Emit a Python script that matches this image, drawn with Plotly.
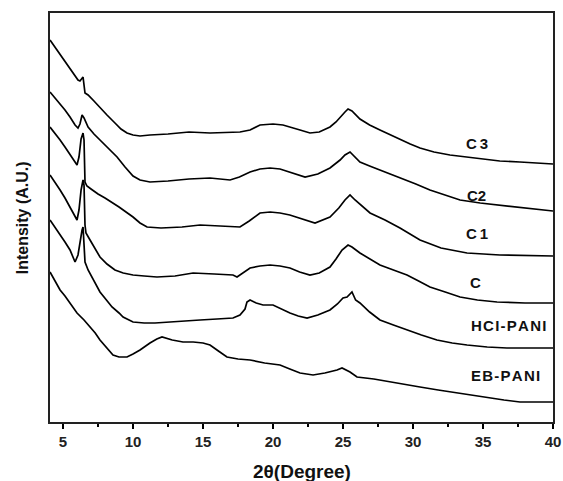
import plotly.graph_objects as go

# ---- data (2θ in degrees, intensity in arbitrary units, offsets included) ----
x_C3 = [4.07, 4.43, 4.79, 5.14, 5.5, 5.86, 6.07, 6.21, 6.43, 6.57, 6.79, 7.21, 7.64, 8.14, 8.71, 9.14, 9.57, 10.0, 10.5, 11.21, 12.5, 14.0, 15.5, 17.0, 17.64, 18.36, 19.07, 20.0, 20.71, 21.93, 22.64, 23.3, 24.07, 24.5, 24.79, 25.14, 25.36, 25.64, 26.21, 26.9, 27.64, 28.4, 29.07, 29.8, 30.5, 31.5, 32.64, 33.7, 34.79, 36.2, 37.64, 40.0]
y_C3 = [382, 375, 367, 360, 354, 346, 342, 341, 345, 329, 327, 321, 315, 307, 299, 293, 289, 287, 286, 287, 288, 290, 289, 290, 290, 292, 297, 298, 297, 292, 289, 290, 295, 300, 305, 310, 313, 311, 303, 297, 292, 287, 282, 278, 274, 270, 267, 265, 263, 261, 260, 258]

x_C2 = [4.07, 4.43, 4.79, 5.14, 5.5, 5.86, 6.07, 6.21, 6.36, 6.5, 6.79, 7.21, 7.64, 8.29, 8.86, 9.43, 10.0, 10.5, 11.21, 12.5, 14.0, 15.5, 16.93, 17.6, 18.36, 19.07, 19.79, 20.5, 21.21, 22.29, 23.2, 24.07, 24.79, 25.14, 25.5, 25.86, 26.21, 26.9, 27.64, 28.4, 29.07, 30.2, 31.21, 32.3, 33.36, 34.8, 36.21, 38.0, 40.0]
y_C2 = [330, 324, 318, 312, 305, 297, 294, 298, 307, 304, 295, 288, 282, 273, 265, 255, 246, 242, 240, 241, 243, 244, 242, 245, 250, 253, 254, 253, 250, 245, 248, 254, 262, 267, 270, 265, 260, 256, 252, 248, 244, 238, 232, 227, 222, 219, 217, 214, 211]

x_C1 = [4.07, 4.43, 4.79, 5.14, 5.5, 5.86, 6.0, 6.14, 6.29, 6.43, 6.5, 6.57, 6.71, 7.0, 7.5, 8.0, 8.36, 9.0, 9.5, 10.0, 10.5, 11.0, 12.0, 13.5, 14.79, 16.3, 17.64, 18.3, 19.07, 19.8, 20.5, 21.2, 21.93, 23.0, 24.07, 24.7, 25.14, 25.5, 25.86, 26.4, 26.93, 28.0, 29.07, 30.5, 32.0, 33.86, 36.21, 40.0]
y_C1 = [295, 289, 282, 275, 267, 259, 257, 265, 283, 289, 282, 240, 236, 233, 228, 224, 221, 215, 210, 205, 199, 195, 194, 195, 197, 196, 195, 201, 209, 210, 209, 207, 204, 199, 205, 214, 222, 227, 222, 215, 209, 202, 194, 182, 174, 169, 167, 166]

x_C = [4.07, 4.43, 4.79, 5.14, 5.5, 5.86, 6.0, 6.14, 6.29, 6.43, 6.5, 6.57, 6.64, 6.93, 7.29, 7.64, 8.14, 8.71, 9.3, 10.0, 10.8, 11.71, 13.0, 14.29, 15.8, 17.14, 17.43, 17.9, 18.36, 19.07, 19.79, 20.5, 21.21, 21.9, 22.64, 23.3, 24.07, 24.5, 24.93, 25.36, 25.64, 26.21, 26.9, 27.64, 28.6, 29.57, 30.4, 31.21, 32.3, 33.36, 34.6, 36.0, 38.0, 40.0]
y_C = [247, 240, 232, 224, 215, 206, 202, 212, 232, 242, 237, 197, 189, 182, 173, 165, 158, 152, 149, 147, 146, 145, 146, 149, 148, 147, 145, 150, 154, 156, 157, 156, 154, 150, 147, 149, 155, 163, 172, 177, 175, 169, 163, 157, 152, 147, 141, 135, 130, 125, 122, 120, 119, 119]

x_HCl = [4.07, 4.43, 4.79, 5.14, 5.5, 5.86, 6.07, 6.21, 6.36, 6.43, 6.5, 6.57, 6.79, 7.2, 7.64, 8.1, 8.5, 9.0, 9.29, 10.0, 10.8, 11.57, 13.0, 14.79, 16.0, 17.14, 17.64, 18.0, 18.14, 18.36, 18.8, 19.29, 20.0, 20.6, 21.21, 21.8, 22.43, 23.2, 24.07, 24.6, 25.0, 25.29, 25.64, 25.9, 26.21, 26.9, 27.64, 28.6, 29.57, 30.6, 31.71, 32.8, 33.86, 35.3, 36.71, 38.3, 40.0]
y_HCl = [202, 195, 187, 180, 172, 160, 167, 180, 192, 195, 182, 160, 152, 141, 130, 122, 115, 109, 105, 100, 99, 99, 100, 102, 103, 104, 107, 113, 120, 122, 119, 117, 117, 113, 109, 106, 104, 107, 112, 118, 124, 125, 130, 122, 119, 110, 102, 97, 92, 87, 82, 79, 77, 75, 74, 74, 74]

x_EB = [4.07, 4.43, 4.79, 5.14, 5.5, 6.0, 6.5, 6.93, 7.3, 7.64, 8.1, 8.57, 9.0, 9.57, 10.0, 10.5, 11.21, 11.7, 12.07, 12.8, 13.57, 14.3, 15.0, 15.5, 16.1, 16.71, 17.5, 18.36, 19.4, 20.5, 21.2, 21.93, 22.86, 23.7, 24.57, 24.93, 25.5, 26.0, 27.2, 28.36, 29.4, 30.5, 31.8, 33.14, 34.2, 35.29, 36.5, 37.64, 40.0]
y_EB = [150, 141, 132, 126, 119, 109, 102, 95, 89, 82, 74, 67, 65, 65, 68, 72, 79, 83, 85, 82, 80, 80, 79, 77, 71, 65, 63, 62, 59, 57, 53, 49, 47, 49, 52, 54, 50, 45, 43, 40, 38, 35, 32, 29, 27, 24, 22, 20, 20]

series_names = ["C3", "C2", "C1", "C", "HCl-PANI", "EB-PANI"]
series_x = [x_C3, x_C2, x_C1, x_C, x_HCl, x_EB]
series_y = [y_C3, y_C2, y_C1, y_C, y_HCl, y_EB]

label_text = ["C\u20093", "C2", "C\u20091", "C", "H\u200aC\u200aI\u200a-\u200aP\u200aA\u200aN\u200aI", "E\u200aB\u200a-\u200aP\u200aA\u200aN\u200aI"]
label_x = [34.57, 34.57, 34.57, 34.43, 36.79, 36.64]
label_y = [279, 227, 189, 140, 97, 47]

x_tick_vals = [5, 10, 15, 20, 25, 30, 35, 40]

FONT = "Liberation Sans, Arial, sans-serif"

fig = go.Figure()
for name, xs, ys in zip(series_names, series_x, series_y):
    fig.add_trace(go.Scatter(x=xs, y=ys, mode="lines", name=name,
                             line=dict(color="black", width=1.7),
                             showlegend=False))

for t, lx, ly in zip(label_text, label_x, label_y):
    fig.add_annotation(x=lx, y=ly, xref="x", yref="y", text=t, showarrow=False,
                       font=dict(family=FONT, size=15, color="#111111", weight="bold"))

fig.add_annotation(x=-0.075, y=0.5, xref="paper", yref="paper", text="Intensity (A.U.)",
                   textangle=-90, showarrow=False,
                   font=dict(family=FONT, size=16, color="#111111", weight="bold"))
fig.add_annotation(x=0.5, y=-0.122, xref="paper", yref="paper", text="2θ(Degree)",
                   showarrow=False, yanchor="middle",
                   font=dict(family=FONT, size=19, color="#111111", weight="bold"))

fig.update_layout(
    width=563, height=481, autosize=False,
    margin=dict(l=50, r=10, t=13, b=59),
    plot_bgcolor="white", paper_bgcolor="white",
    xaxis=dict(range=[4.07, 40], tickvals=x_tick_vals, ticks="outside", ticklen=5,
               tickwidth=1.5, tickcolor="black", automargin=False,
               showline=True, linecolor="#222222", linewidth=2, mirror=True,
               showgrid=False, zeroline=False,
               tickfont=dict(family=FONT, size=15, color="#222222", weight="bold"),
               minor=dict(tickvals=[7.5, 12.5, 17.5, 22.5, 27.5, 32.5, 37.5],
                          ticks="outside", ticklen=3, tickwidth=1.5, tickcolor="black")),
    yaxis=dict(range=[0, 409], showticklabels=False, ticks="", automargin=False,
               showline=True, linecolor="#222222", linewidth=2, mirror=True,
               showgrid=False, zeroline=False),
)

fig.write_html("out.html", config={"displayModeBar": False, "responsive": False},
               post_script="document.body.style.margin='0';document.body.style.overflow='hidden';")
